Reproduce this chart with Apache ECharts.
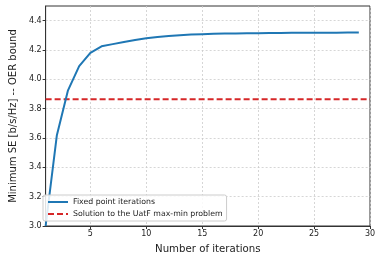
<!DOCTYPE html>
<html><head><meta charset="utf-8">
<script src="https://cdn.jsdelivr.net/npm/echarts@6/dist/echarts.min.js"></script>
<style>html,body{margin:0;padding:0;background:#fff}#c{width:381px;height:259px}</style>
</head><body><div id="c"></div>
<script>
const iterations = [1,2,3,4,5,6,7,8,9,10,11,12,13,14,15,16,17,18,19,20,21,22,23,24,25,26,27,28,29];
const fixedPoint = [3.00,3.617,3.925,4.09,4.18,4.225,4.24,4.255,4.268,4.28,4.289,4.296,4.301,4.305,4.308,4.31,4.312,4.313,4.314,4.315,4.316,4.316,4.317,4.317,4.318,4.318,4.318,4.319,4.319];
const uatfValue = 3.865;
const xTicks = [5,10,15,20,25,30];
const yTicks = [3.0,3.2,3.4,3.6,3.8,4.0,4.2,4.4];
const seriesNames = ['Fixed point iterations','Solution to the UatF max-min problem'];

const chart = echarts.init(document.getElementById('c'), null, {renderer:'canvas'});
const font = 'DejaVu Sans';
chart.setOption({
  animation:false,
  grid:{left:37,right:11,top:6,bottom:32,show:true,borderColor:'#333',borderWidth:1,backgroundColor:'transparent'},
  legend:{
    orient:'vertical', left:43, bottom:38,
    data:seriesNames,
    backgroundColor:'rgba(255,255,255,0.85)', borderColor:'#ccc', borderWidth:1, borderRadius:2,
    padding:[3,4,3,4], itemGap:4, itemWidth:20, itemHeight:8,
    itemStyle:{opacity:0},
    textStyle:{fontFamily:font,fontSize:7.8,color:'#222'}
  },
  xAxis:{
    type:'value', min:1, max:30,
    name:'Number of iterations', nameLocation:'middle', nameGap:18,
    nameTextStyle:{fontFamily:font,fontSize:10.2,color:'#222'},
    axisLine:{show:true,onZero:false,lineStyle:{color:'#333'}},
    axisTick:{show:true,customValues:xTicks,length:3,lineStyle:{color:'#333'}},
    axisLabel:{customValues:xTicks,fontFamily:font,fontSize:8,color:'#222',margin:4},
    splitLine:{show:true,lineStyle:{color:'#ccc',type:[2,2],width:0.8}}
  },
  yAxis:{
    type:'value', min:3.0, max:4.5,
    name:'Minimum SE [b/s/Hz] -- OER bound', nameLocation:'middle', nameGap:23,
    nameTextStyle:{fontFamily:font,fontSize:10,color:'#222'},
    axisLine:{show:true,onZero:false,lineStyle:{color:'#333'}},
    axisTick:{show:true,customValues:yTicks,length:3,lineStyle:{color:'#333'}},
    axisLabel:{customValues:yTicks,fontFamily:font,fontSize:8,color:'#222',margin:4,formatter:v=>v.toFixed(1)},
    splitLine:{show:true,lineStyle:{color:'#ccc',type:[2,2],width:0.8}}
  },
  series:[
    {name:seriesNames[0],type:'line',data:iterations.map((x,i)=>[x,fixedPoint[i]]),
     showSymbol:false,symbol:'none',lineStyle:{color:'#1f77b4',width:2},itemStyle:{color:'#1f77b4'},z:3},
    {name:seriesNames[1],type:'line',data:[[1,uatfValue],[30,uatfValue]],
     showSymbol:false,symbol:'none',lineStyle:{color:'#d62728',width:2,type:[6,3]},itemStyle:{color:'#d62728'},z:2}
  ]
});
</script></body></html>
